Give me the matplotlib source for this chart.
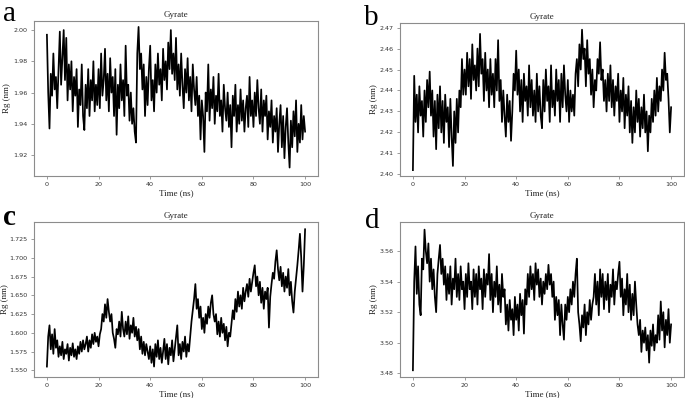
import numpy as np
import matplotlib
matplotlib.use("Agg")
import matplotlib.pyplot as plt

# Radius of gyration, in units of 1e-3 nm, sampled every 0.5 ns (0..100 ns)
rg_a = [1997, 1960, 1937, 1972, 1958, 1985, 1962, 1970, 1950, 1975,
        1999, 1965, 1982, 2000, 1968, 1995, 1955, 1978, 1962, 1980,
        1948, 1970, 1958, 1975, 1938, 1962, 1952, 1978, 1945, 1936,
        1965, 1950, 1975, 1945, 1968, 1955, 1980, 1948, 1965, 1952,
        1975, 1950, 1985, 1958, 1968, 1988, 1955, 1972, 1948, 1982,
        1960, 1970, 1945, 1975, 1933, 1965, 1950, 1978, 1955, 1968,
        1945, 1990, 1958, 1965, 1942, 1960, 1940, 1950, 1935, 1928,
        1985, 2002, 1975, 1985, 1962, 1978, 1945, 1970, 1952, 1975,
        1990, 1955, 1968, 1948, 1978, 1960, 1985, 1965, 1975, 1955,
        1988, 1968, 1980, 1962, 1992, 1975, 2000, 1972, 1985, 1968,
        1995, 1962, 1978, 1958, 1985, 1965, 1950, 1975, 1960, 1982,
        1955, 1970, 1948, 1978, 1962, 1952, 1970, 1945, 1958, 1930,
        1955, 1945, 1922, 1960, 1948, 1978, 1942, 1962, 1950, 1970,
        1940, 1958, 1948, 1972, 1945, 1955, 1935, 1965, 1950, 1942,
        1960, 1938, 1952, 1925, 1958, 1945, 1965, 1935, 1952, 1940,
        1962, 1942, 1955, 1935, 1950, 1958, 1938, 1970, 1945, 1955,
        1938, 1960, 1945, 1968, 1950, 1940, 1962, 1935, 1955, 1945,
        1958, 1930, 1948, 1938, 1955, 1928, 1945, 1935, 1950, 1922,
        1940, 1952, 1925, 1945, 1918, 1938, 1950, 1928, 1912, 1942,
        1925, 1948, 1932, 1955, 1922, 1940, 1928, 1952, 1930, 1945,
        1935]

rg_b = [2402, 2447, 2425, 2438, 2420, 2442, 2428, 2435, 2418, 2440,
        2425, 2445, 2432, 2449, 2428, 2440, 2418, 2435, 2412, 2438,
        2422, 2442, 2420, 2435, 2415, 2438, 2425, 2432, 2413, 2436,
        2418, 2404, 2430, 2415, 2436, 2420, 2440, 2432, 2455, 2438,
        2450, 2438, 2458, 2442, 2455, 2436, 2462, 2445, 2452, 2440,
        2460, 2442, 2467, 2448, 2455, 2435, 2458, 2440, 2450, 2432,
        2455, 2438, 2448, 2432, 2455, 2440, 2464, 2435, 2445, 2425,
        2440, 2428, 2418, 2438, 2425, 2435, 2416, 2430, 2448, 2440,
        2459, 2438, 2450, 2430, 2445, 2425, 2448, 2435, 2442, 2428,
        2452, 2432, 2445, 2428, 2440, 2425, 2448, 2430, 2442, 2428,
        2422, 2445, 2430, 2450, 2435, 2442, 2425, 2452, 2432, 2440,
        2428, 2450, 2435, 2445, 2425, 2448, 2432, 2452, 2438, 2430,
        2445, 2425, 2440, 2430, 2438, 2428, 2448, 2455, 2442, 2462,
        2450, 2469, 2455, 2460, 2442, 2464, 2448, 2455, 2438, 2450,
        2432, 2445, 2440, 2455, 2448, 2463, 2445, 2450, 2435, 2445,
        2430, 2448, 2435, 2452, 2432, 2445, 2428, 2442, 2435, 2448,
        2425, 2440, 2430, 2446, 2422, 2438, 2428, 2442, 2420, 2435,
        2415, 2432, 2420, 2440, 2425, 2436, 2418, 2432, 2422, 2438,
        2420, 2430, 2411, 2428, 2420, 2436, 2425, 2440, 2428, 2446,
        2430, 2442, 2435, 2450, 2440, 2458, 2445, 2448, 2436, 2420,
        2432]

rg_c = [1555, 1595, 1610, 1578, 1598, 1572, 1605, 1580, 1590, 1568,
        1582, 1570, 1588, 1565, 1578, 1572, 1585, 1563, 1580, 1570,
        1586, 1568, 1578, 1565, 1582, 1572, 1588, 1575, 1590, 1578,
        1585, 1595, 1575, 1590, 1580, 1598, 1585, 1600, 1588, 1595,
        1582, 1598, 1605, 1625, 1615, 1638, 1620, 1645, 1628, 1615,
        1625, 1600, 1592, 1580, 1605, 1598, 1615, 1595, 1628, 1605,
        1595, 1615, 1598, 1622, 1592, 1610, 1600, 1620, 1595, 1608,
        1590, 1605, 1578, 1595, 1572, 1588, 1570, 1585, 1575, 1565,
        1582, 1560, 1578, 1555, 1585, 1568, 1590, 1565, 1580, 1560,
        1575, 1592, 1565, 1585, 1558, 1580, 1570, 1590, 1562, 1578,
        1595, 1610, 1570, 1585, 1565, 1588, 1575, 1595, 1568, 1585,
        1575, 1595, 1615, 1630, 1645, 1665, 1632, 1645, 1620, 1635,
        1605, 1620, 1600, 1625, 1612, 1635, 1620, 1640, 1650, 1625,
        1615, 1625, 1598, 1615, 1595, 1620, 1600, 1612, 1590, 1608,
        1582, 1600, 1595, 1612, 1630, 1618, 1645, 1628, 1655, 1635,
        1650, 1632, 1660, 1642, 1655, 1665, 1648, 1672, 1655, 1668,
        1680, 1690, 1662, 1675, 1650, 1668, 1640, 1660, 1632, 1655,
        1645, 1660, 1607, 1648, 1665, 1680, 1672, 1695, 1710, 1685,
        1670, 1688, 1662, 1680, 1655, 1675, 1660, 1685, 1650, 1668,
        1642, 1627, 1655, 1672, 1690, 1710, 1732, 1700, 1655, 1690,
        1738]

rg_d = [3482, 3540, 3563, 3532, 3550, 3525, 3518, 3555, 3548, 3574,
        3560, 3552, 3565, 3540, 3555, 3535, 3548, 3530, 3520, 3545,
        3555, 3564, 3545, 3555, 3538, 3550, 3528, 3545, 3532, 3550,
        3525, 3542, 3535, 3555, 3530, 3545, 3528, 3550, 3535, 3540,
        3522, 3545, 3530, 3552, 3535, 3540, 3522, 3548, 3530, 3545,
        3525, 3550, 3535, 3542, 3522, 3548, 3530, 3545, 3538, 3558,
        3528, 3545, 3520, 3540, 3530, 3550, 3525, 3538, 3520, 3545,
        3530, 3535, 3512, 3525, 3508, 3528, 3515, 3522, 3505, 3530,
        3515, 3525, 3508, 3532, 3518, 3528, 3506, 3535, 3525, 3545,
        3530, 3550, 3535, 3545, 3528, 3552, 3538, 3548, 3530, 3542,
        3525, 3540, 3532, 3545, 3535, 3551, 3538, 3545, 3530, 3540,
        3515, 3530, 3518, 3528, 3505, 3525, 3512, 3502, 3525, 3515,
        3530, 3520, 3535, 3525, 3540, 3530, 3545, 3555, 3520, 3512,
        3501, 3518, 3510, 3525, 3505, 3520, 3512, 3528, 3515, 3525,
        3530, 3545, 3525, 3540, 3518, 3548, 3530, 3545, 3522, 3540,
        3528, 3545, 3520, 3538, 3530, 3548, 3525, 3540, 3535, 3545,
        3553, 3530, 3542, 3518, 3535, 3525, 3545, 3520, 3538, 3515,
        3532, 3518, 3540, 3525, 3512, 3505, 3515, 3494, 3508, 3500,
        3510, 3495, 3505, 3487, 3508, 3498, 3512, 3495, 3505, 3500,
        3518, 3502, 3527, 3508, 3520, 3497, 3515, 3505, 3522, 3500,
        3512]

panel_letters = ["a", "b", "c", "d"]
yticks_a = [1.92, 1.94, 1.96, 1.98, 2.00]
yticks_b = [2.40, 2.41, 2.42, 2.43, 2.44, 2.45, 2.46, 2.47]
yticks_c = [1.550, 1.575, 1.600, 1.625, 1.650, 1.675, 1.700, 1.725]
yticks_d = [3.48, 3.50, 3.52, 3.54, 3.56]
xticks = [0, 20, 40, 60, 80, 100]

W, H = 685, 398
fig = plt.figure(figsize=(W / 100, H / 100), dpi=100)

panels = [
    (rg_a, yticks_a, "{:.2f}", (34, 21, 318, 176), (1.9066, 2.0058), (3, 21), "normal", -0.081),
    (rg_b, yticks_b, "{:.2f}", (400, 23, 684, 176), (364, 25), "normal", -0.077),
    (rg_c, yticks_c, "{:.3f}", (34, 222, 318, 377), (1.5411, 1.7477), (3, 225), "bold", -0.089),
    (rg_d, yticks_d, "{:.2f}", (400, 222, 684, 377), (3.4776, 3.579), (365, 228), "normal", -0.077),
]
panels[1] = (rg_b, yticks_b, "{:.2f}", (400, 23, 684, 176), (2.3992, 2.4722), (364, 25), "normal", -0.077)

serif = ["Liberation Serif", "DejaVu Serif"]
spine_col = "#8c8c8c"

for (data, yt, fmt, box, ylim, lpos, lweight, ylx), letter in zip(panels, panel_letters):
    x0, y0, x1, y1 = box
    ax = fig.add_axes([x0 / W, 1 - y1 / H, (x1 - x0) / W, (y1 - y0) / H])
    y = np.array(data) / 1000.0
    t = np.linspace(0, 100, len(y))
    ax.plot(t, y, color="black", lw=1.25, alpha=1.0)
    ax.set_xlim(-5, 105)
    ax.set_ylim(*ylim)
    ax.set_xticks(xticks)
    ax.set_yticks(yt)
    ax.set_yticklabels([fmt.format(v) for v in yt])
    ax.tick_params(labelsize=4.6, length=2.5, width=0.6, color=spine_col,
                   labelcolor="#333333", pad=2)
    for s in ax.spines.values():
        s.set_color(spine_col)
        s.set_linewidth(0.8)
    ax.set_title("Gyrate", fontsize=6.5, family=serif, pad=3, color="#222222")
    ax.set_xlabel("Time (ns)", fontsize=6.5, family=serif, labelpad=1.5, color="#222222")
    ax.set_ylabel("Rg (nm)", fontsize=6.5, family=serif, color="#222222")
    ax.yaxis.set_label_coords(ylx, 0.5)
    fig.text(lpos[0] / W, 1 - lpos[1] / H, letter, fontsize=21, family=serif,
             weight=lweight, ha="left", va="baseline")

fig.savefig("out.png", dpi=100)
